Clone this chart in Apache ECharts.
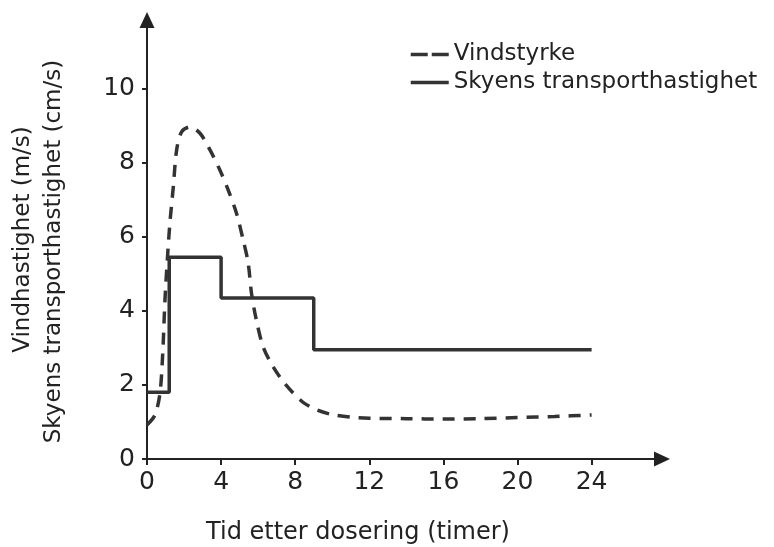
<!DOCTYPE html>
<html>
<head>
<meta charset="utf-8">
<script src="https://cdn.jsdelivr.net/npm/echarts@6/dist/echarts.min.js"></script>
<style>
    html, body { margin: 0; padding: 0; background: #fff; }
    #chart { width: 774px; height: 547px; }
</style>
</head>
<body>
<div id="chart"></div>
<script>
// vindstyrke (m/s), stiplet kurve
const windHours = [0, 0.43, 0.7, 0.85, 0.97, 1.1, 1.24, 1.42, 1.6, 1.87, 2.32, 2.86, 3.4, 3.94, 4.38, 4.83, 5.19, 5.46, 5.64, 5.9, 6.27, 6.8, 7.5, 8.4, 9.2, 10, 11, 12, 14, 16, 18, 20, 22, 24];
const windSpeed = [0.92, 1.19, 1.78, 2.86, 4.3, 5.4, 6.4, 7.35, 8.35, 8.84, 8.97, 8.8, 8.35, 7.8, 7.27, 6.64, 5.92, 5.3, 4.48, 3.76, 3.03, 2.5, 2.0, 1.54, 1.32, 1.2, 1.13, 1.1, 1.09, 1.08, 1.09, 1.12, 1.15, 1.19];

// skyens transporthastighet (cm/s), trappekurve
const cloudHours = [0, 1.2, 4, 9, 24];
const cloudSpeed = [1.8, 5.45, 4.35, 2.95, 2.95];

const xTicks = [0, 4, 8, 12, 16, 20, 24];
const yTicks = [0, 2, 4, 6, 8, 10];

const font = 'DejaVu Sans';
const ink = '#222';

const axisLine = {
    show: true,
    symbol: ['none', 'triangle'],
    symbolSize: [15, 16],
    lineStyle: {
        color: ink,
        width: 2
    }
};

const option = {
    animation: false,
    backgroundColor: '#fff',
    grid: {
        left: 147,
        right: 112,
        top: 20,
        bottom: 88,
        outerBoundsMode: 'none'
    },
    legend: {
        orient: 'vertical',
        left: 404,
        top: 38,
        itemWidth: 38,
        itemHeight: 4,
        itemGap: 5,
        itemStyle: { opacity: 0 },
        textStyle: {
            fontFamily: font,
            fontSize: 23,
            color: ink
        },
        data: [
            { name: 'Vindstyrke', lineStyle: { type: [17, 4], width: 3.5 } },
            { name: 'Skyens transporthastighet', lineStyle: { width: 3.5 } }
        ]
    },
    xAxis: {
        type: 'value',
        min: 0,
        max: 27.8,
        name: 'Tid etter dosering (timer)',
        nameLocation: 'middle',
        nameGap: 62,
        nameTextStyle: {
            fontFamily: font,
            fontSize: 24,
            color: ink,
            padding: [0, 93, 0, 0]
        },
        axisLine: axisLine,
        axisTick: {
            show: true,
            length: 6,
            customValues: xTicks,
            lineStyle: { color: ink, width: 2 }
        },
        axisLabel: {
            customValues: xTicks,
            margin: 11,
            fontFamily: font,
            fontSize: 25,
            color: ink
        },
        splitLine: { show: false }
    },
    yAxis: {
        type: 'value',
        min: 0,
        max: 11.86,
        name: 'Vindhastighet (m/s)\n{b|Skyens transporthastighet (cm/s)}',
        nameLocation: 'middle',
        nameGap: 77,
        nameTextStyle: {
            fontFamily: font,
            fontSize: 23,
            lineHeight: 31,
            color: ink,
            rich: {
                b: {
                    fontFamily: font,
                    fontSize: 23,
                    lineHeight: 31,
                    color: ink,
                    padding: [0, 24, 0, 0]
                }
            }
        },
        axisLine: axisLine,
        axisTick: {
            show: true,
            length: 5,
            customValues: yTicks,
            lineStyle: { color: ink, width: 2 }
        },
        axisLabel: {
            customValues: yTicks,
            margin: 12,
            fontFamily: font,
            fontSize: 25,
            color: ink
        },
        splitLine: { show: false }
    },
    series: [
        {
            name: 'Vindstyrke',
            type: 'line',
            data: windHours.map((h, i) => [h, windSpeed[i]]),
            symbol: 'none',
            smooth: 0.3,
            lineStyle: {
                color: '#333',
                width: 3.5,
                type: [12, 9]
            },
            itemStyle: { color: '#333' },
            z: 3
        },
        {
            name: 'Skyens transporthastighet',
            type: 'line',
            step: 'end',
            data: cloudHours.map((h, i) => [h, cloudSpeed[i]]),
            symbol: 'none',
            lineStyle: {
                color: '#333',
                width: 3.5
            },
            itemStyle: { color: '#333' },
            z: 2
        }
    ]
};

const chart = echarts.init(document.getElementById('chart'));
chart.setOption(option);
</script>
</body>
</html>
